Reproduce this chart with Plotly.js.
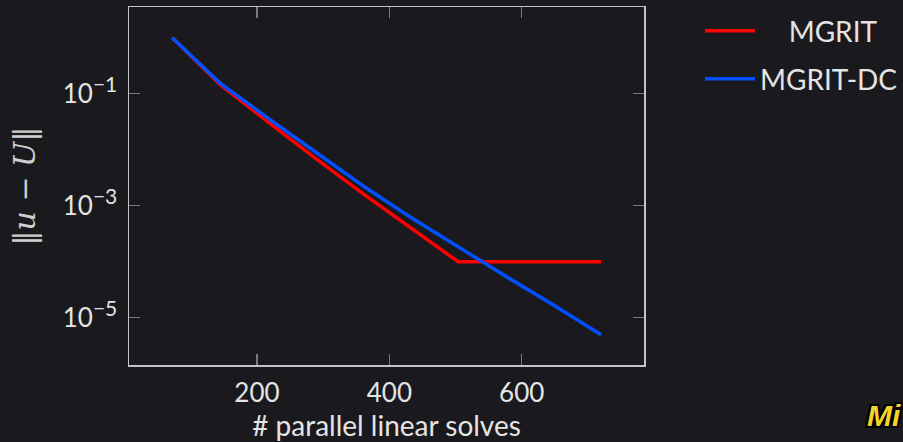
<!DOCTYPE html>
<html>
<head>
<meta charset="utf-8">
<script src="https://cdn.plot.ly/plotly-3.0.1.min.js"></script>
<style>
  html, body { margin: 0; padding: 0; background: #1a1a1e; }
  #chart { width: 903px; height: 442px; }
</style>
</head>
<body>
<div id="chart"></div>
<script>
// ---- data ----
const solves = [72, 144, 216, 288, 360, 432, 504, 576, 648, 720];
const errMGRIT = [0.98, 0.145, 0.0314, 7.0e-3, 1.64e-3, 3.97e-4, 1.0e-4, 1.0e-4, 1.0e-4, 1.0e-4];
const errMGRITDC = [0.98, 0.153, 0.0366, 8.9e-3, 2.26e-3, 6.2e-4, 1.81e-4, 5.5e-5, 1.69e-5, 5.0e-6];
const seriesNames = ["MGRIT", "MGRIT-DC"];
const xTickVals = [200, 400, 600];
const yTickVals = [1e-1, 1e-3, 1e-5];
const yTickExps = ["\u22121", "\u22123", "\u22125"];
const yTickText = yTickExps.map(e => "10<sup><span style='font-size:21px'>" + e + "</span></sup>");

const bg = "#1a1a1e";
const txt = "#e4e4e4";
const fontFam = "Lato, 'DejaVu Sans', sans-serif";

const traces = [
  {
    x: solves, y: errMGRIT, name: "\u00a0\u00a0\u00a0\u00a0" + seriesNames[0],
    mode: "lines", line: {color: "#ff0000", width: 3.5}, legend: "legend"
  },
  {
    x: solves, y: errMGRITDC, name: seriesNames[1],
    mode: "lines", line: {color: "#0050ff", width: 3.5}, legend: "legend2"
  }
];

const legendCommon = {
  xref: "container", yref: "container",
  xanchor: "left", yanchor: "middle",
  bgcolor: "rgba(0,0,0,0)", borderwidth: 0,
  font: {family: fontFam, size: 28, color: txt},
  itemwidth: 50
};

const layout = {
  width: 903, height: 442,
  paper_bgcolor: bg, plot_bgcolor: bg,
  margin: {l: 129, r: 259, t: 7, b: 77},
  font: {family: fontFam, color: txt},
  showlegend: true,
  legend: Object.assign({}, legendCommon, {x: 700 / 903, y: 1 - 31 / 442}),
  legend2: Object.assign({}, legendCommon, {x: 700 / 903, y: 1 - 79 / 442}),
  xaxis: {
    range: [6.6, 784.8],
    tickvals: xTickVals,
    ticktext: xTickVals.map(String),
    ticks: "inside", ticklen: 11, tickwidth: 1.2, tickcolor: "#7a7a7a",
    showline: true, linecolor: "#c4c4c4", linewidth: 1.5, mirror: "allticks",
    showgrid: false, zeroline: false,
    tickfont: {family: fontFam, size: 26, color: txt},
    ticklabelstandoff: 4,
    title: {text: "# parallel linear solves", font: {family: fontFam, size: 28, color: txt}, standoff: 8}
  },
  yaxis: {
    type: "log",
    range: [-5.84, 0.54],
    tickvals: yTickVals,
    ticktext: yTickText,
    ticks: "inside", ticklen: 11, tickwidth: 1.2, tickcolor: "#7a7a7a",
    showline: true, linecolor: "#c4c4c4", linewidth: 1.5, mirror: "allticks",
    showgrid: false, zeroline: false,
    tickfont: {family: fontFam, size: 26, color: txt},
    ticklabelstandoff: 5,
    title: {text: "\u2016<i>u</i> \u2212 <i>U</i>\u2016", font: {family: "'DejaVu Serif', serif", size: 30, color: "#cfcfcf"}, standoff: 18}
  },
  annotations: [
    {
      xref: "paper", yref: "paper", x: (865 - 129) / 515, y: -(434 - 365) / 358,
      xanchor: "left", yanchor: "bottom", showarrow: false,
      text: "<b><i>Mi</i></b>",
      font: {family: "'Liberation Sans', sans-serif", size: 30, color: "#f5d22c", shadow: "2px 0 0 #000, -2px 0 0 #000, 0 2px 0 #000, 0 -2px 0 #000, 2px 2px 0 #000, -2px -2px 0 #000, 2px -2px 0 #000, -2px 2px 0 #000"}
    }
  ]
};

Plotly.newPlot("chart", traces, layout, {displayModeBar: false, staticPlot: true});
</script>
</body>
</html>
